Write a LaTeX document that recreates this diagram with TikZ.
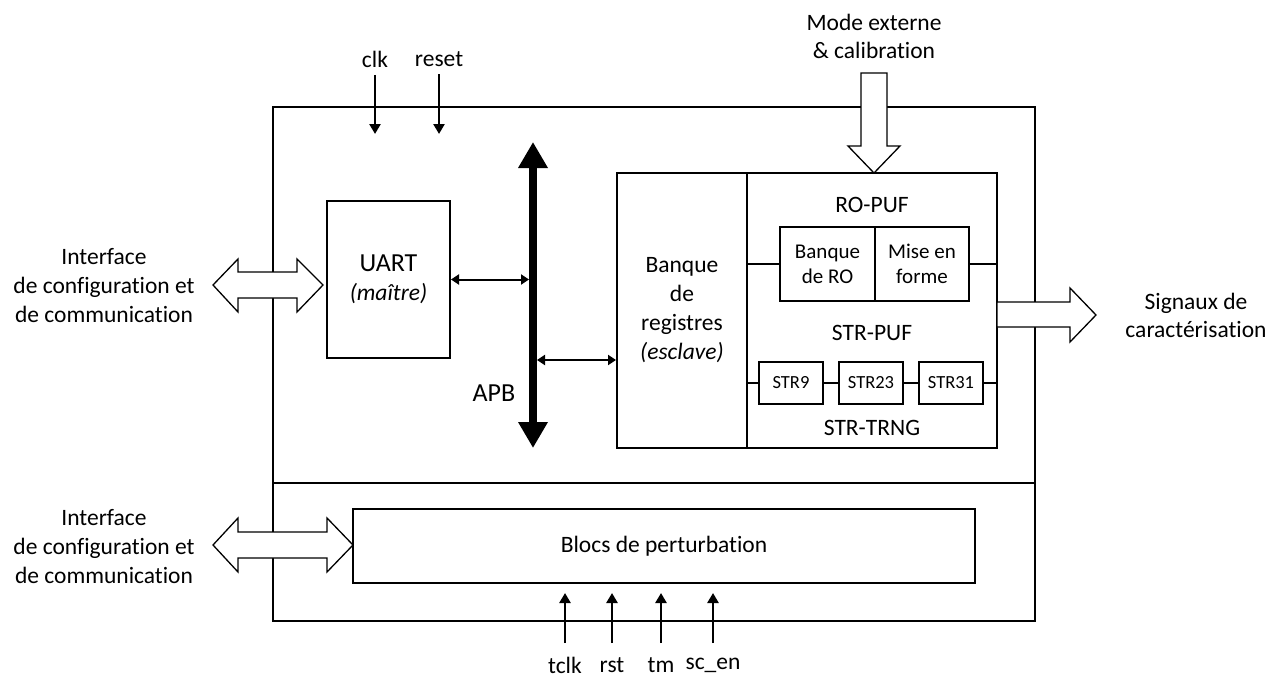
\documentclass[tikz,border=0pt]{standalone}
\usepackage{fontspec}
\setmainfont{Carlito}[Ligatures=NoCommon]
\usetikzlibrary{arrows.meta}

\begin{document}
\begin{tikzpicture}[x=1pt, y=-1pt,
		font=\fontsize{23.5}{29}\selectfont,
		blk/.style={draw=black, line width=2pt, inner sep=0pt, align=center},
		sig/.style={black, line width=2.5pt, -{Triangle[width=11pt,length=10pt]}},
		link/.style={black, line width=2pt, {Triangle[width=10pt,length=8pt]}-{Triangle[width=10pt,length=8pt]}},
		bus/.style={black, line width=8pt, {Triangle[width=28pt,length=26pt]}-{Triangle[width=28pt,length=26pt]}},
		hollow/.style={draw=black, fill=white, line width=1.3pt, line join=miter},
		wire/.style={black, line width=2pt},
		txtsmall/.style={font=\fontsize{21}{25}\selectfont},
		txtstr/.style={font=\fontsize{18.5}{22}\selectfont},
		txtbig/.style={font=\fontsize{26}{30}\selectfont}]
		\useasboundingbox (0,0) rectangle (1267,677);

		\draw[wire, line width=2.4pt] (273,107) rectangle (1035,621);
		\draw[wire, line width=2.4pt] (273,483) -- (1035,483);

		\node (clk) at (375,59) {clk};
		\node (reset) at (439,59) {reset};
		\draw[sig] ([yshift=-4pt]clk.south) -- (clk |- 0,134);
		\draw[sig] ([yshift=-4pt]reset.south) -- (reset |- 0,134);

		\node[blk, minimum width=123, minimum height=157] (uart) at (388.5,279.5) {{\fontsize{26}{28}\selectfont UART}\\\textit{(maître)}};
		\node[blk, minimum width=130, minimum height=275] (regs) at (682,310.5) {Banque\\de\\registres\\\textit{(esclave)}};
		\node[blk, minimum width=250, minimum height=275] (puf) at (872,310.5) {};

		\coordinate (apbtop) at (533,142);
		\coordinate (apbbot) at (533,448);
		\draw[bus] (apbtop) -- (apbbot);
		\node[txtbig] (apb) at (494,393) {APB};
		\draw[link, shorten >=4pt] (uart.east) -- (uart.east -| apbtop);
		\draw[link, shorten <=4pt] ([yshift=-49.5pt]regs.west -| apbtop) -- ([yshift=-49.5pt]regs.west);

		\node (ropuf) at (872,205) {RO-PUF};
		\node[blk, txtsmall, minimum width=95, minimum height=74] (robank) at (827.5,264) {Banque\\de RO};
		\node[blk, txtsmall, minimum width=94, minimum height=74] (shape) at (922,264) {Mise en\\forme};
		\draw[wire] (puf.west |- robank) -- (robank.west);
		\draw[wire] (shape.east) -- (puf.east |- shape);

		\node (strpuf) at (872,333) {STR-PUF};
		\node[blk, txtstr, minimum width=64, minimum height=42] (str9) at (791,383) {STR9};
		\node[blk, txtstr, minimum width=64, minimum height=42] (str23) at (871,383) {STR23};
		\node[blk, txtstr, minimum width=64, minimum height=42] (str31) at (951,383) {STR31};
		\draw[wire] (puf.west |- str9) -- (str9.west);
		\draw[wire] (str9.east) -- (str23.west);
		\draw[wire] (str23.east) -- (str31.west);
		\draw[wire] (str31.east) -- (puf.east |- str31);
		\node (strtrng) at (872,428) {STR-TRNG};

		\node (mode) at (874,36) [align=center, font=\fontsize{23.5}{28}\selectfont] {Mode externe\\\& calibration};
		\draw[hollow] (861,73) -- (887,73) -- (887,146) -- (900,146) -- (874,173) -- (848,146) -- (861,146) -- cycle;

		\node (sigout) at (1196,315) [align=center, font=\fontsize{23.5}{28}\selectfont] {Signaux de\\caractérisation};
		\draw[hollow] (997,302) -- (1070,302) -- (1070,288) -- (1096,315) -- (1070,342) -- (1070,327) -- (997,327) -- cycle;

		\node (ifup) at (104,286) [align=center] {Interface\\de configuration et\\de communication};
		\draw[hollow] (213,285) -- (238,259) -- (238,272) -- (297,272) -- (297,259) -- (323,285) -- (297,312) -- (297,298) -- (238,298) -- (238,312) -- cycle;

		\node[blk, minimum width=622, minimum height=74] (blocs) at (664,546) {Blocs de perturbation};

		\node (iflow) at (104,547) [align=center] {Interface\\de configuration et\\de communication};
		\draw[hollow] (213,545) -- (238,518) -- (238,532) -- (327,532) -- (327,518) -- (353,545) -- (327,572) -- (327,558) -- (238,558) -- (238,572) -- cycle;

		\node (tclk) at (565,665) {tclk};
		\node (rst) at (612,665) {rst};
		\node (tm) at (661,665) {tm};
		\node (scen) at (713,665) {sc\_en};
		\foreach \pin in {tclk,rst,tm,scen}
			\draw[sig] (\pin |- 0,643) -- (\pin |- 0,593);
	\end{tikzpicture}
\end{document}
